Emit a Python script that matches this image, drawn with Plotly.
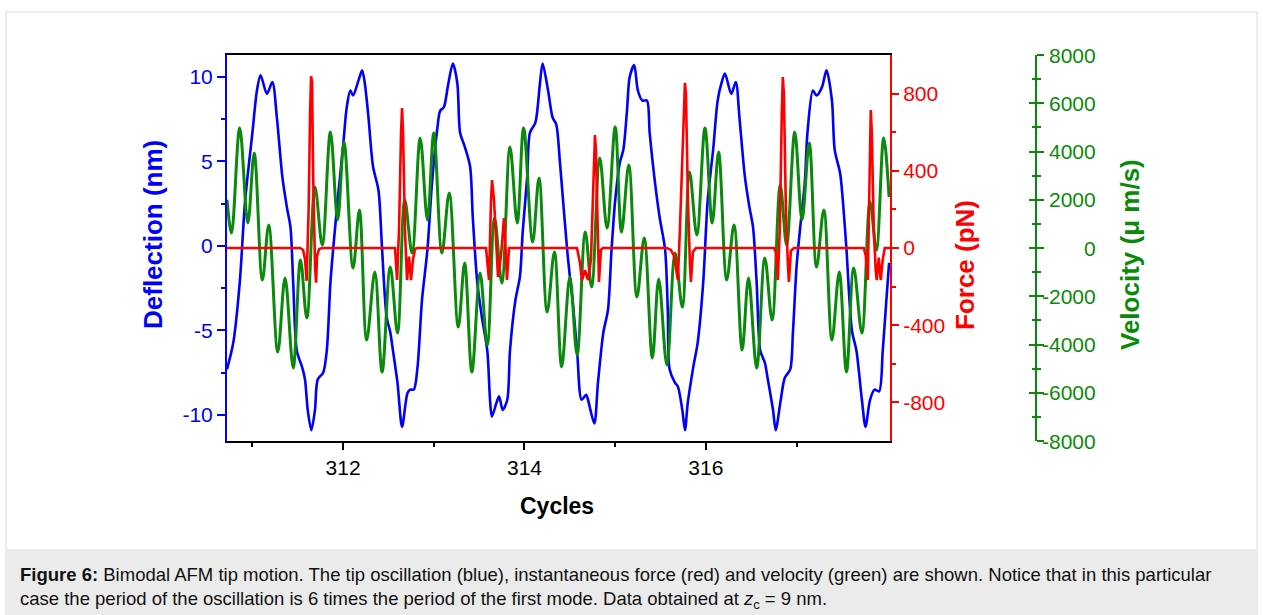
import plotly.graph_objects as go

# ---------------- data ----------------
# Deflection (nm) vs cycles
defl_cycles = [310.72, 310.79, 310.86, 310.92, 311.00, 311.05, 311.09, 311.16, 311.22, 311.27,
               311.33, 311.38, 311.42, 311.45, 311.49, 311.55, 311.58, 311.61, 311.65, 311.69,
               311.72, 311.78, 311.82, 311.86, 311.89, 311.94, 312.00, 312.04, 312.08, 312.11,
               312.17, 312.21, 312.24, 312.28, 312.33, 312.39, 312.43, 312.48, 312.52, 312.55,
               312.60, 312.65, 312.71, 312.74, 312.78, 312.82, 312.87, 312.93, 312.98, 313.04,
               313.07, 313.11, 313.16, 313.21, 313.26, 313.29, 313.34, 313.40, 313.43, 313.48,
               313.53, 313.59, 313.62, 313.64, 313.69, 313.72, 313.76, 313.81, 313.84, 313.90,
               313.95, 313.98, 314.03, 314.06, 314.12, 314.17, 314.20, 314.26, 314.31, 314.35,
               314.39, 314.41, 314.47, 314.50, 314.53, 314.58, 314.63, 314.68, 314.70, 314.77,
               314.81, 314.87, 314.92, 314.96, 315.00, 315.05, 315.09, 315.13, 315.16, 315.21,
               315.25, 315.30, 315.35, 315.38, 315.44, 315.49, 315.55, 315.58, 315.60, 315.66,
               315.69, 315.74, 315.77, 315.80, 315.86, 315.91, 315.97, 316.02, 316.08, 316.13,
               316.17, 316.21, 316.28, 316.33, 316.37, 316.43, 316.48, 316.52, 316.56, 316.60,
               316.65, 316.68, 316.74, 316.77, 316.82, 316.87, 316.93, 316.96, 317.00, 317.04,
               317.09, 317.12, 317.18, 317.22, 317.28, 317.33, 317.39, 317.42, 317.48, 317.51,
               317.55, 317.61, 317.66, 317.72, 317.76, 317.81, 317.86, 317.91, 317.95, 317.99,
               318.02]
defl_nm = [-7.3, -5.7, -2.2, 2.7, 6.7, 9.2, 10.1, 9.0, 9.7, 7.6,
           4.1, 2.3, 1.1, -2.2, -6.2, -7.2, -7.9, -9.7, -10.9, -9.7,
           -7.9, -7.5, -6.2, -2.2, -0.2, 2.7, 5.9, 8.2, 9.2, 8.9,
           9.8, 10.4, 9.6, 7.6, 4.7, 3.3, -0.2, -4.2, -5.1, -6.2,
           -8.1, -10.7, -8.7, -8.5, -8.5, -7.2, -3.2, -0.2, 3.7, 7.0,
           8.0, 8.2, 9.6, 10.8, 9.6, 6.7, 5.9, 4.7, 1.7, -2.2,
           -4.2, -6.2, -9.1, -10.1, -9.3, -8.9, -9.7, -9.1, -6.2, -3.2,
           -1.8, 0.8, 4.1, 6.7, 7.3, 9.6, 10.8, 9.2, 7.6, 7.2,
           5.0, 3.7, -0.2, -1.8, -3.2, -6.2, -9.1, -8.8, -9.1, -10.5,
           -8.1, -5.1, -3.8, -0.2, 2.7, 4.9, 5.7, 8.0, 10.0, 10.7,
           9.2, 8.6, 8.6, 6.7, 3.7, 1.7, -0.2, -3.8, -7.3, -8.1,
           -8.3, -9.7, -10.9, -9.3, -7.2, -5.7, -2.2, 2.7, 5.7, 8.6,
           9.6, 10.2, 9.0, 9.7, 7.6, 4.1, 2.3, 1.1, -2.2, -6.2,
           -6.9, -7.8, -9.7, -10.9, -9.3, -7.8, -7.3, -5.1, -1.2, 1.1,
           3.7, 6.7, 9.2, 8.9, 9.4, 10.4, 8.6, 5.7, 4.3, 2.7,
           -0.2, -5.0, -6.2, -9.1, -10.7, -9.1, -8.5, -8.6, -6.2, -3.2,
           -1.0]

# Velocity (um/s) vs cycles
vel_cycles = [310.72, 310.77, 310.86, 310.95, 311.02, 311.11, 311.18, 311.28, 311.36, 311.45,
              311.53, 311.60, 311.69, 311.77, 311.86, 311.94, 312.01, 312.11, 312.18, 312.26,
              312.35, 312.43, 312.52, 312.60, 312.68, 312.76, 312.85, 312.93, 313.00, 313.09,
              313.17, 313.27, 313.34, 313.42, 313.51, 313.59, 313.67, 313.75, 313.84, 313.92,
              313.99, 314.09, 314.16, 314.25, 314.33, 314.41, 314.50, 314.58, 314.67, 314.74,
              314.83, 314.91, 315.00, 315.07, 315.15, 315.24, 315.32, 315.41, 315.48, 315.57,
              315.66, 315.74, 315.82, 315.90, 315.99, 316.07, 316.14, 316.23, 316.31, 316.40,
              316.47, 316.56, 316.65, 316.73, 316.82, 316.89, 316.98, 317.06, 317.14, 317.22,
              317.30, 317.39, 317.47, 317.55, 317.63, 317.72, 317.81, 317.88, 317.96, 318.02]
vel_ums = [2000, 622, 4974, 1036, 3938, -1326, 953, -4311, -1244, -4974,
           -497, -2902, 2528, 124, 4808, 1161, 4394, -829, 1575, -3813,
           -995, -5140, -788, -3523, 1990, -207, 4560, 1161, 4767, -207,
           2280, -3275, -622, -5140, -1036, -4021, 1244, -1451, 4186, 1036,
           4974, 249, 2902, -2653, -166, -4933, -1202, -4435, 663, -1617,
           3731, 829, 5015, 663, 3440, -2031, 415, -4560, -1285, -4850,
           -207, -2446, 3150, 539, 4974, 1036, 3979, -1326, 953, -4228,
           -1244, -4974, -415, -2984, 2611, 124, 4808, 1161, 4352, -788,
           1575, -3813, -995, -5140, -829, -3523, 1907, -83, 4560, 2114]

# Force (pN) vs cycles
force_cycles = [310.72,
                311.526, 311.559, 311.581, 311.598, 311.620, 311.636, 311.647, 311.658, 311.669,
                311.691, 311.702, 311.713, 311.736, 311.769,
                312.573, 312.595, 312.617, 312.639, 312.650, 312.661, 312.683, 312.705, 312.727,
                312.749, 312.771, 312.793, 312.815,
                313.576, 313.609, 313.631, 313.642, 313.664, 313.675, 313.708, 313.741, 313.763,
                313.774, 313.785, 313.807, 313.829,
                314.579, 314.612, 314.634, 314.667, 314.700, 314.733, 314.755, 314.777, 314.788,
                314.810, 314.821, 314.843, 314.865,
                315.570, 315.614, 315.648, 315.691, 315.714, 315.747, 315.769, 315.780, 315.802,
                315.824, 315.835, 315.857, 315.890,
                316.749, 316.771, 316.793, 316.815, 316.837, 316.848, 316.860, 316.882, 316.904,
                316.915, 316.937, 316.970,
                317.741, 317.763, 317.785, 317.807, 317.818, 317.829, 317.851, 317.873, 317.884,
                317.906, 317.928, 317.950, 317.972, 318.03]
force_pN = [0,
            0, -10, -60, -170, 200, 700, 890, 860, 400,
            -100, -180, -40, -5, 0,
            0, -166, 100, 600, 725, 600, 80, -166, -45,
            -166, -60, -5, 0,
            0, -166, 250, 352, 250, 160, -150, -40, 120,
            155, 60, -166, 0,
            0, -78, -166, -115, -166, -60, 300, 585, 500,
            0, -176, -10, 0,
            0, -10, -40, -166, 100, 600, 855, 800, 250,
            -80, -176, -20, 0,
            0, -20, -166, 100, 700, 886, 800, 200, -80,
            -176, -15, 0,
            0, -40, -166, 450, 715, 600, 100, -120, -166,
            -50, -166, -60, 0, 0]

# Tick labels
x_ticks = [312, 314, 316]
defl_ticks = [-10, -5, 0, 5, 10]
force_ticks = [-800, -400, 0, 400, 800]
vel_ticks = [-8000, -6000, -4000, -2000, 0, 2000, 4000, 6000, 8000]

caption_1 = ("<b>Figure 6:</b> Bimodal AFM tip motion. The tip oscillation (blue), instantaneous force (red) "
             "and velocity (green) are shown. Notice that in this particular")
caption_2 = ("case the period of the oscillation is 6 times the period of the first mode. "
             "Data obtained at <i>z</i><sub>c</sub> = 9 nm.")

# ---------------- styling ----------------
W, H = 1263, 615
FONT = "Liberation Sans, Arial, sans-serif"
BLUE, RED, GREEN = "#0000ff", "#ff0000", "#0a8a0a"
AX_GREEN = "#0a8a0a"

def px(xp):
    return xp / W

def py(yp):
    return 1 - yp / H

x_dom = [px(227), px(890)]
y_dom = [py(441), py(55)]

fig = go.Figure()
fig.add_trace(go.Scatter(x=defl_cycles, y=defl_nm, mode="lines", yaxis="y",
                         line=dict(color=BLUE, width=2.6, shape="spline", smoothing=0.8),
                         showlegend=False, hoverinfo="skip"))
fig.add_trace(go.Scatter(x=vel_cycles, y=vel_ums, mode="lines", yaxis="y2",
                         line=dict(color=GREEN, width=3, shape="spline", smoothing=1.0),
                         showlegend=False, hoverinfo="skip"))
fig.add_trace(go.Scatter(x=force_cycles, y=force_pN, mode="lines", yaxis="y3",
                         line=dict(color=RED, width=2.6),
                         showlegend=False, hoverinfo="skip"))
fig.add_trace(go.Scatter(x=[None], y=[None], yaxis="y4", showlegend=False, hoverinfo="skip"))

fig.update_layout(
    width=W, height=H,
    margin=dict(l=0, r=0, t=0, b=0),
    paper_bgcolor="white", plot_bgcolor="white",
    font=dict(family=FONT, size=21, color="black"),
    showlegend=False,
    xaxis=dict(domain=x_dom, range=[310.72, 318.03], anchor="y",
               showline=True, linecolor="black", linewidth=2, mirror=True,
               ticks="outside", ticklen=7, tickwidth=2, tickcolor="black",
               tickvals=x_ticks, ticktext=[str(v) for v in x_ticks],
               minor=dict(tickvals=[311, 313, 315, 317], ticks="outside", ticklen=4,
                          tickwidth=1.5, tickcolor="black"),
               showgrid=False, zeroline=False,
               tickfont=dict(family=FONT, size=21, color="black")),
    yaxis=dict(domain=y_dom, range=[-11.54, 11.30], anchor="x",
               showline=True, linecolor=BLUE, linewidth=2,
               ticks="outside", ticklen=8, tickwidth=2, tickcolor=BLUE,
               tickvals=defl_ticks, ticktext=[str(v) for v in defl_ticks],
               minor=dict(tickvals=[-7.5, -2.5, 2.5, 7.5], ticks="outside", ticklen=4,
                          tickwidth=1.5, tickcolor=BLUE),
               showgrid=False, zeroline=False,
               tickfont=dict(family=FONT, size=21, color=BLUE)),
    yaxis2=dict(overlaying="y", side="right", anchor="free", position=px(1036),
                range=[-8000, 8000], showline=True, linecolor=AX_GREEN, linewidth=2,
                ticks="outside", ticklen=7, tickwidth=2, tickcolor=AX_GREEN,
                tickvals=vel_ticks, showticklabels=False,
                minor=dict(tickvals=[-7000, -5000, -3000, -1000, 1000, 3000, 5000, 7000],
                           ticks="outside", ticklen=4, tickwidth=1.5, tickcolor=AX_GREEN),
                showgrid=False, zeroline=False),
    yaxis4=dict(overlaying="y", side="right", anchor="free", position=px(1036),
                range=[-8000, 8000], showline=False,
                ticks="inside", ticklen=7, tickwidth=2, tickcolor=AX_GREEN,
                tickvals=vel_ticks, showticklabels=False,
                minor=dict(tickvals=[-7000, -5000, -3000, -1000, 1000, 3000, 5000, 7000],
                           ticks="inside", ticklen=4, tickwidth=1.5, tickcolor=AX_GREEN),
                showgrid=False, zeroline=False),
    yaxis3=dict(overlaying="y", side="right", anchor="x",
                range=[-1000, 1000], showline=True, linecolor=RED, linewidth=2,
                ticks="outside", ticklen=7, tickwidth=2, tickcolor=RED,
                tickvals=force_ticks, ticktext=[str(v) for v in force_ticks],
                minor=dict(tickvals=[-600, -200, 200, 600], ticks="outside", ticklen=4,
                           tickwidth=1.5, tickcolor=RED),
                showgrid=False, zeroline=False,
                tickfont=dict(family=FONT, size=21, color=RED)),
)

# velocity tick labels (right aligned, as in the reference)
for v in vel_ticks:
    fig.add_annotation(x=px(1098), xref="paper", y=v, yref="y2", text=str(v),
                       xanchor="right", yanchor="middle", showarrow=False,
                       font=dict(family=FONT, size=21, color=AX_GREEN))

# axis titles
titles = [
    ("Deflection (nm)", 153, 235, -90, BLUE, 26),
    ("Force (pN)", 965, 265, -90, RED, 26),
    ("Velocity (\u03bc m/s)", 1130, 255, -90, AX_GREEN, 26),
    ("Cycles", 557, 506, 0, "black", 23),
]
for t, xp_, yp_, ang, col, sz in titles:
    fig.add_annotation(x=px(xp_), y=py(yp_), xref="paper", yref="paper",
                       text=f"<b>{t}</b>", textangle=ang, showarrow=False,
                       xanchor="center", yanchor="middle",
                       font=dict(family=FONT, size=sz, color=col))

# frame and caption box
fig.add_shape(type="rect", xref="paper", yref="paper", x0=px(6), x1=px(1257), y0=py(615), y1=py(12),
              line=dict(color="#d8d8d8", width=1), fillcolor="rgba(0,0,0,0)", layer="below")
fig.add_shape(type="rect", xref="paper", yref="paper", x0=px(6), x1=px(1257), y0=py(615), y1=py(549),
              line=dict(width=0), fillcolor="#ebebeb", layer="below")

fig.add_annotation(x=px(18), y=py(574), xref="paper", yref="paper", text=caption_1,
                   xanchor="left", yanchor="middle", showarrow=False,
                   font=dict(family=FONT, size=18.5, color="#111111"))
fig.add_annotation(x=px(18), y=py(600), xref="paper", yref="paper", text=caption_2,
                   xanchor="left", yanchor="middle", showarrow=False,
                   font=dict(family=FONT, size=18.5, color="#111111"))

fig.write_html("out.html")
